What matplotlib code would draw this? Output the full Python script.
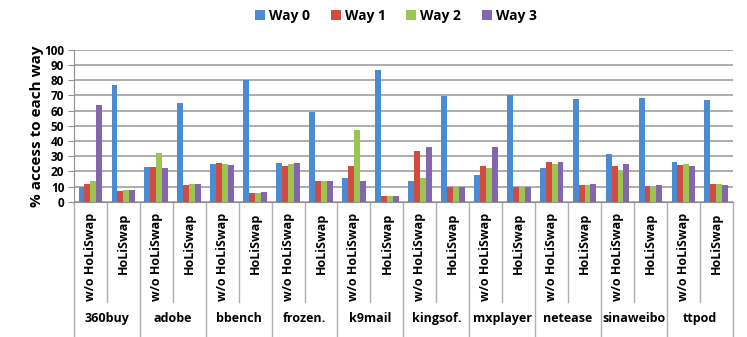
import numpy as np
import matplotlib.pyplot as plt

plt.rcParams['font.family'] = ['Open Sans', 'DejaVu Sans']

apps = ["360buy", "adobe", "bbench", "frozen.", "k9mail", "kingsof.",
        "mxplayer", "netease", "sinaweibo", "ttpod"]
configs = ["w/o HoLiSwap", "HoLiSwap"]
ways = ["Way 0", "Way 1", "Way 2", "Way 3"]
colors = ["#4a8bd2", "#d24b40", "#9bc451", "#8466ae"]

# one value per cluster (w/o, HoLiSwap alternating per app)
way0 = [10, 77, 23, 65, 25, 80.5, 25.5, 59, 16, 87,
        14, 69.5, 18, 70.5, 22.5, 67.5, 31.5, 68.5, 26, 67]
way1 = [12, 7, 23, 11, 25.5, 6, 23.5, 14, 23.5, 4,
        33.5, 10, 23.5, 10, 26, 11, 23.5, 10.5, 24.5, 11.5]
way2 = [14, 8, 32, 12, 25, 6, 25, 13.5, 47.5, 4,
        16, 10, 22.5, 10, 25, 11, 19.5, 10, 25, 11.5]
way3 = [64, 8, 22, 11.5, 24.5, 6.5, 25.5, 13.5, 13.5, 4,
        36, 10, 36, 10, 26.5, 11.5, 25, 11, 23.5, 11]
series = [way0, way1, way2, way3]

fig = plt.figure(figsize=(7.47, 3.37), dpi=100)
ax = fig.add_axes([0.099, 0.401, 0.882, 0.451])

n = len(way0)
x = np.arange(n)
w = 0.18
for k, (vals, c) in enumerate(zip(series, colors)):
    ax.bar(x + (k - 1.5) * w, vals, w, color=c, label=ways[k], zorder=3)

ax.set_xlim(-0.5, n - 0.5)
ax.set_ylim(0, 100)
ax.set_yticks(range(0, 101, 10))
ax.yaxis.grid(True, color="#a0a0a0", linewidth=1.2, zorder=0)
ax.set_xticks([])
for s in ["top", "right"]:
    ax.spines[s].set_visible(False)
ax.spines["left"].set_color("#909090")
ax.spines["bottom"].set_color("#909090")
ax.tick_params(axis="y", direction="out", length=4, color="#909090",
               labelsize=8.5, pad=3)
for lab in ax.get_yticklabels():
    lab.set_fontweight("bold")
ax.set_ylabel("% access to each way", fontsize=11, fontweight="bold")
ax.yaxis.set_label_coords(-0.045, 0.5)

# category labels below the axis
tr = ax.get_xaxis_transform()
for i in range(n):
    ax.text(i, -0.07, configs[i % 2], rotation=90, ha="center", va="top",
            fontsize=9, fontweight="bold", transform=tr)
for g, app in enumerate(apps):
    ax.text(2 * g + 0.5, -0.77, app, ha="center", va="center",
            fontsize=9, fontweight="bold", transform=tr)
for i in range(n + 1):
    xb = i - 0.5
    y1 = -0.92 if i % 2 == 0 else -0.66
    ax.plot([xb, xb], [0, y1], color="#b0b0b0", linewidth=1,
            transform=tr, clip_on=False)

fig.legend(loc="upper center", bbox_to_anchor=(0.53, 1.01), ncol=4,
           frameon=False, handlelength=0.7, handleheight=0.7,
           handletextpad=0.3, columnspacing=1.5,
           prop={"weight": "bold", "size": 10})

fig.savefig("out.png", dpi=100)
